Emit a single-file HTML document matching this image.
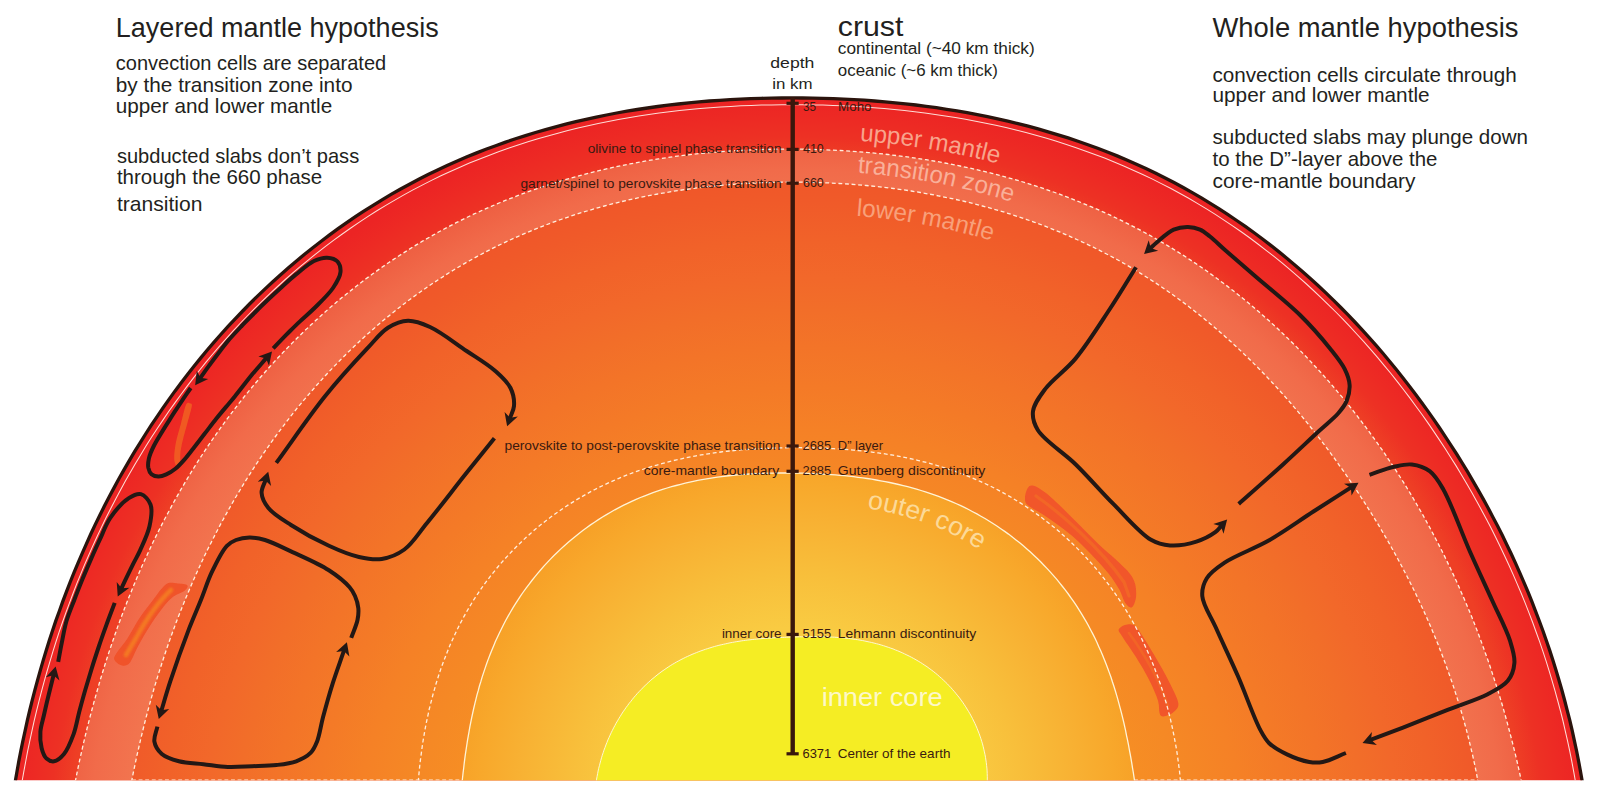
<!DOCTYPE html>
<html><head><meta charset="utf-8"><title>Mantle convection hypotheses</title>
<style>html,body{margin:0;padding:0;background:#fff}svg{display:block}</style></head>
<body>
<svg width="1600" height="794" viewBox="0 0 1600 794" font-family="Liberation Sans, sans-serif">
<defs>
<clipPath id="cb"><rect x="0" y="0" width="1600" height="780.3"/></clipPath>
<radialGradient id="gUM" gradientUnits="userSpaceOnUse" cx="797" cy="880" r="790" gradientTransform="translate(797 880) scale(1 0.99) translate(-797 -880)"><stop offset="0.925" stop-color="#ee3f25"/><stop offset="0.95" stop-color="#ed3124"/><stop offset="0.975" stop-color="#ed2a24"/><stop offset="1" stop-color="#ec2424"/></radialGradient>
<radialGradient id="gTZ" gradientUnits="userSpaceOnUse" cx="797" cy="880" r="740"><stop offset="0.905" stop-color="#f2754f"/><stop offset="0.96" stop-color="#f16b4a"/><stop offset="1" stop-color="#ee5f42"/></radialGradient>
<radialGradient id="gLM" gradientUnits="userSpaceOnUse" cx="800" cy="880" r="700"><stop offset="0.50" stop-color="#f68e24"/><stop offset="0.56" stop-color="#f58925"/><stop offset="0.643" stop-color="#f58126"/><stop offset="0.704" stop-color="#f47a27"/><stop offset="0.761" stop-color="#f37428"/><stop offset="0.814" stop-color="#f26e29"/><stop offset="0.86" stop-color="#f2682a"/><stop offset="0.913" stop-color="#f16229"/><stop offset="0.971" stop-color="#f05a29"/><stop offset="1" stop-color="#f05729"/></radialGradient>
<radialGradient id="gOC" gradientUnits="userSpaceOnUse" cx="797" cy="800" r="345"><stop offset="0.5" stop-color="#f9cb42"/><stop offset="0.65" stop-color="#f8bf3b"/><stop offset="0.81" stop-color="#f8b133"/><stop offset="0.92" stop-color="#f8a82b"/><stop offset="1" stop-color="#f7a027"/></radialGradient>
</defs>
<rect width="1600" height="794" fill="#fff"/>
<g clip-path="url(#cb)">
<path d="M15.2 781.8 L17.0 771.5 L18.8 761.3 L20.8 751.1 L22.9 740.9 L25.1 730.8 L27.3 720.6 L29.7 710.5 L32.2 700.4 L34.8 690.4 L37.5 680.4 L40.3 670.4 L43.2 660.4 L46.2 650.5 L49.3 640.6 L52.5 630.8 L55.8 620.9 L59.3 611.2 L62.8 601.4 L66.5 591.7 L70.2 582.0 L74.1 572.4 L78.1 562.8 L82.2 553.3 L86.4 543.8 L90.7 534.3 L95.1 524.9 L99.7 515.6 L104.3 506.3 L109.1 497.1 L114.0 487.9 L118.9 478.7 L124.1 469.7 L129.3 460.7 L134.6 451.7 L140.1 442.8 L145.6 434.0 L151.3 425.2 L157.1 416.6 L163.0 407.9 L169.0 399.4 L175.1 390.9 L181.4 382.6 L187.7 374.2 L194.2 366.0 L200.8 357.9 L207.5 349.8 L214.3 341.9 L221.2 334.0 L228.3 326.2 L235.4 318.6 L242.7 311.0 L250.0 303.5 L257.5 296.1 L265.1 288.9 L272.8 281.7 L280.6 274.7 L288.5 267.7 L296.5 260.9 L304.6 254.2 L312.8 247.7 L321.2 241.2 L329.6 234.9 L338.1 228.7 L346.7 222.6 L355.4 216.7 L364.2 210.9 L373.1 205.3 L382.0 199.8 L391.1 194.4 L400.2 189.2 L409.5 184.2 L418.8 179.3 L428.1 174.5 L437.6 169.9 L447.1 165.5 L456.7 161.2 L466.4 157.1 L476.1 153.1 L485.9 149.3 L495.7 145.7 L505.6 142.1 L515.5 138.8 L525.5 135.6 L535.5 132.5 L545.6 129.6 L555.7 126.8 L565.8 124.2 L575.9 121.7 L586.1 119.3 L596.3 117.1 L606.5 115.0 L616.7 113.0 L627.0 111.2 L637.3 109.5 L647.5 108.0 L657.8 106.5 L668.1 105.2 L678.4 104.0 L688.8 102.9 L699.1 101.9 L709.4 101.0 L719.7 100.3 L730.1 99.7 L740.4 99.1 L750.7 98.7 L761.1 98.3 L771.4 98.1 L781.7 98.0 L792.1 97.9 L802.4 98.0 L812.7 98.1 L823.0 98.3 L833.4 98.7 L843.7 99.1 L854.0 99.6 L864.3 100.2 L874.6 101.0 L884.9 101.8 L895.2 102.8 L905.5 103.8 L915.8 105.0 L926.1 106.3 L936.4 107.7 L946.6 109.3 L956.9 110.9 L967.1 112.7 L977.3 114.6 L987.5 116.7 L997.7 118.8 L1007.8 121.2 L1018.0 123.6 L1028.1 126.2 L1038.1 128.9 L1048.1 131.8 L1058.1 134.8 L1068.1 137.9 L1078.0 141.2 L1087.9 144.7 L1097.7 148.3 L1107.4 152.0 L1117.1 155.9 L1126.8 160.0 L1136.4 164.2 L1145.9 168.5 L1155.3 173.0 L1164.7 177.7 L1174.0 182.5 L1183.2 187.5 L1192.3 192.6 L1201.4 197.9 L1210.3 203.3 L1219.2 208.9 L1228.0 214.6 L1236.7 220.5 L1245.3 226.4 L1253.8 232.5 L1262.2 238.8 L1270.5 245.1 L1278.7 251.6 L1286.8 258.2 L1294.8 264.9 L1302.7 271.7 L1310.6 278.7 L1318.3 285.7 L1325.9 292.9 L1333.4 300.1 L1340.8 307.5 L1348.1 314.9 L1355.3 322.5 L1362.4 330.1 L1369.4 337.8 L1376.3 345.6 L1383.1 353.5 L1389.7 361.5 L1396.3 369.5 L1402.8 377.7 L1409.2 385.9 L1415.5 394.2 L1421.6 402.5 L1427.7 410.9 L1433.7 419.4 L1439.6 428.0 L1445.3 436.6 L1451.0 445.3 L1456.6 454.0 L1462.1 462.8 L1467.5 471.7 L1472.7 480.6 L1477.9 489.6 L1483.0 498.6 L1488.0 507.7 L1492.8 516.9 L1497.6 526.1 L1502.3 535.3 L1506.8 544.7 L1511.3 554.0 L1515.6 563.4 L1519.8 572.9 L1523.9 582.4 L1528.0 592.0 L1531.9 601.6 L1535.6 611.3 L1539.3 621.0 L1542.9 630.7 L1546.3 640.5 L1549.7 650.4 L1552.9 660.3 L1556.0 670.2 L1559.0 680.2 L1561.9 690.2 L1564.6 700.2 L1567.2 710.3 L1569.8 720.4 L1572.2 730.6 L1574.4 740.8 L1576.6 751.0 L1578.6 761.2 L1580.5 771.5 L1582.3 781.8 Z" fill="url(#gUM)"/>
<path d="M75.2 781.8 L77.1 772.4 L79.0 763.1 L81.1 753.8 L83.2 744.5 L85.4 735.2 L87.7 725.9 L90.1 716.7 L92.5 707.5 L95.0 698.3 L97.6 689.2 L100.2 680.1 L103.0 671.0 L105.8 661.9 L108.8 652.8 L111.8 643.8 L114.9 634.8 L118.0 625.9 L121.3 617.0 L124.7 608.1 L128.1 599.2 L131.7 590.4 L135.3 581.6 L139.1 572.8 L142.9 564.1 L146.9 555.4 L150.9 546.8 L155.0 538.2 L159.3 529.6 L163.6 521.1 L168.1 512.7 L172.6 504.3 L177.3 495.9 L182.0 487.6 L186.9 479.4 L191.8 471.2 L196.9 463.0 L202.1 455.0 L207.4 446.9 L212.8 439.0 L218.3 431.1 L223.9 423.3 L229.6 415.6 L235.5 407.9 L241.4 400.3 L247.4 392.8 L253.6 385.4 L259.8 378.0 L266.2 370.8 L272.6 363.6 L279.2 356.5 L285.8 349.5 L292.6 342.6 L299.5 335.8 L306.4 329.1 L313.5 322.5 L320.7 315.9 L327.9 309.5 L335.3 303.2 L342.7 297.0 L350.3 290.9 L357.9 285.0 L365.6 279.1 L373.5 273.3 L381.4 267.7 L389.3 262.2 L397.4 256.8 L405.6 251.6 L413.8 246.4 L422.1 241.4 L430.5 236.6 L439.0 231.8 L447.6 227.2 L456.2 222.7 L464.9 218.4 L473.6 214.2 L482.5 210.2 L491.3 206.3 L500.3 202.5 L509.3 198.9 L518.3 195.4 L527.4 192.0 L536.6 188.8 L545.7 185.7 L555.0 182.8 L564.2 180.0 L573.5 177.3 L582.9 174.7 L592.2 172.3 L601.6 170.0 L611.0 167.8 L620.5 165.8 L629.9 163.9 L639.4 162.1 L648.9 160.4 L658.4 158.9 L667.9 157.5 L677.5 156.1 L687.0 155.0 L696.6 153.9 L706.1 152.9 L715.7 152.1 L725.3 151.3 L734.9 150.7 L744.5 150.2 L754.0 149.8 L763.6 149.4 L773.2 149.2 L782.8 149.1 L792.4 149.1 L802.0 149.2 L811.5 149.4 L821.1 149.7 L830.7 150.1 L840.3 150.5 L849.8 151.1 L859.4 151.8 L868.9 152.6 L878.5 153.5 L888.0 154.5 L897.5 155.7 L907.1 156.9 L916.5 158.3 L926.0 159.7 L935.5 161.3 L944.9 163.0 L954.4 164.8 L963.8 166.8 L973.2 168.8 L982.5 171.0 L991.9 173.3 L1001.2 175.7 L1010.4 178.3 L1019.7 181.0 L1028.9 183.8 L1038.0 186.7 L1047.2 189.8 L1056.3 193.0 L1065.3 196.3 L1074.3 199.8 L1083.2 203.4 L1092.1 207.1 L1100.9 210.9 L1109.7 214.9 L1118.4 219.1 L1127.1 223.3 L1135.6 227.7 L1144.1 232.2 L1152.6 236.9 L1160.9 241.7 L1169.2 246.6 L1177.4 251.6 L1185.6 256.8 L1193.6 262.1 L1201.6 267.5 L1209.5 273.0 L1217.3 278.7 L1225.0 284.4 L1232.6 290.3 L1240.1 296.2 L1247.6 302.3 L1255.0 308.5 L1262.2 314.8 L1269.4 321.1 L1276.5 327.6 L1283.5 334.2 L1290.4 340.8 L1297.2 347.6 L1303.9 354.4 L1310.5 361.4 L1317.0 368.4 L1323.5 375.5 L1329.8 382.6 L1336.0 389.9 L1342.2 397.2 L1348.2 404.6 L1354.2 412.1 L1360.0 419.6 L1365.8 427.2 L1371.4 434.9 L1377.0 442.6 L1382.5 450.4 L1387.8 458.3 L1393.1 466.2 L1398.3 474.2 L1403.4 482.2 L1408.4 490.3 L1413.3 498.5 L1418.1 506.7 L1422.8 514.9 L1427.4 523.2 L1431.9 531.6 L1436.3 540.0 L1440.7 548.5 L1444.9 556.9 L1449.0 565.5 L1453.1 574.1 L1457.1 582.7 L1460.9 591.4 L1464.7 600.1 L1468.4 608.8 L1472.0 617.6 L1475.5 626.4 L1478.9 635.3 L1482.2 644.2 L1485.4 653.2 L1488.6 662.1 L1491.6 671.1 L1494.6 680.2 L1497.5 689.3 L1500.3 698.4 L1503.0 707.5 L1505.6 716.7 L1508.1 725.9 L1510.5 735.1 L1512.9 744.4 L1515.2 753.7 L1517.4 763.0 L1519.5 772.4 L1521.5 781.8 Z" fill="url(#gTZ)"/>
<path d="M131.5 781.8 L133.2 773.2 L135.0 764.6 L136.8 756.1 L138.8 747.5 L140.7 739.0 L142.8 730.5 L144.9 722.0 L147.1 713.6 L149.4 705.1 L151.7 696.7 L154.1 688.3 L156.6 680.0 L159.2 671.6 L161.9 663.3 L164.6 655.0 L167.4 646.7 L170.3 638.4 L173.3 630.2 L176.3 622.0 L179.5 613.8 L182.7 605.7 L186.0 597.6 L189.4 589.5 L192.9 581.4 L196.4 573.4 L200.1 565.4 L203.8 557.4 L207.6 549.5 L211.6 541.6 L215.6 533.7 L219.7 525.9 L223.9 518.1 L228.2 510.4 L232.5 502.7 L237.0 495.0 L241.6 487.4 L246.2 479.8 L251.0 472.3 L255.8 464.8 L260.8 457.4 L265.8 450.1 L270.9 442.8 L276.2 435.5 L281.5 428.3 L286.9 421.2 L292.4 414.1 L298.0 407.1 L303.8 400.2 L309.6 393.4 L315.5 386.6 L321.5 379.9 L327.6 373.2 L333.8 366.7 L340.1 360.2 L346.5 353.8 L353.0 347.5 L359.6 341.3 L366.3 335.2 L373.1 329.2 L379.9 323.3 L386.9 317.5 L394.0 311.8 L401.1 306.1 L408.4 300.6 L415.7 295.2 L423.1 290.0 L430.6 284.8 L438.2 279.8 L445.9 274.8 L453.6 270.0 L461.4 265.3 L469.4 260.8 L477.3 256.4 L485.4 252.1 L493.5 247.9 L501.7 243.9 L510.0 240.0 L518.3 236.3 L526.7 232.7 L535.2 229.2 L543.7 225.8 L552.2 222.6 L560.8 219.5 L569.4 216.6 L578.1 213.7 L586.9 211.0 L595.6 208.5 L604.4 206.0 L613.2 203.7 L622.1 201.5 L631.0 199.4 L639.9 197.5 L648.8 195.7 L657.8 194.0 L666.8 192.4 L675.8 190.9 L684.8 189.6 L693.8 188.4 L702.9 187.3 L711.9 186.3 L721.0 185.4 L730.0 184.6 L739.1 183.9 L748.2 183.4 L757.3 182.9 L766.3 182.6 L775.4 182.3 L784.5 182.2 L793.6 182.2 L802.7 182.2 L811.8 182.4 L820.9 182.6 L829.9 183.0 L839.0 183.5 L848.1 184.0 L857.2 184.7 L866.2 185.5 L875.3 186.4 L884.3 187.4 L893.3 188.5 L902.3 189.7 L911.3 191.0 L920.3 192.5 L929.3 194.1 L938.2 195.8 L947.1 197.6 L956.0 199.5 L964.9 201.5 L973.7 203.7 L982.5 206.0 L991.3 208.4 L1000.1 210.9 L1008.8 213.6 L1017.4 216.4 L1026.1 219.3 L1034.6 222.3 L1043.2 225.5 L1051.7 228.8 L1060.1 232.2 L1068.5 235.8 L1076.8 239.5 L1085.1 243.3 L1093.3 247.2 L1101.4 251.3 L1109.5 255.5 L1117.5 259.8 L1125.4 264.3 L1133.2 268.9 L1141.0 273.6 L1148.7 278.5 L1156.3 283.4 L1163.8 288.5 L1171.3 293.7 L1178.6 299.0 L1185.9 304.4 L1193.1 309.9 L1200.2 315.5 L1207.2 321.2 L1214.1 327.0 L1221.0 332.9 L1227.8 338.9 L1234.4 344.9 L1241.0 351.1 L1247.5 357.3 L1253.9 363.6 L1260.2 370.0 L1266.5 376.5 L1272.6 383.0 L1278.7 389.6 L1284.7 396.3 L1290.6 403.0 L1296.4 409.8 L1302.1 416.7 L1307.8 423.6 L1313.4 430.6 L1318.9 437.6 L1324.3 444.7 L1329.6 451.8 L1334.9 459.0 L1340.0 466.3 L1345.2 473.5 L1350.2 480.9 L1355.2 488.2 L1360.0 495.6 L1364.9 503.1 L1369.6 510.6 L1374.3 518.1 L1378.9 525.7 L1383.4 533.4 L1387.9 541.0 L1392.2 548.7 L1396.5 556.5 L1400.7 564.3 L1404.9 572.2 L1408.9 580.1 L1412.9 588.0 L1416.8 596.0 L1420.5 604.0 L1424.3 612.1 L1427.9 620.2 L1431.4 628.4 L1434.8 636.6 L1438.2 644.8 L1441.4 653.1 L1444.6 661.4 L1447.6 669.8 L1450.6 678.2 L1453.5 686.6 L1456.2 695.1 L1458.9 703.6 L1461.5 712.2 L1463.9 720.8 L1466.3 729.4 L1468.5 738.1 L1470.6 746.7 L1472.7 755.5 L1474.6 764.2 L1476.4 773.0 L1478.0 781.8 Z" fill="url(#gLM)"/>
<path d="M462.1 781.8 L462.6 777.2 L463.1 772.6 L463.7 768.0 L464.2 763.3 L464.8 758.7 L465.4 754.2 L466.1 749.6 L466.8 745.0 L467.5 740.4 L468.3 735.8 L469.1 731.3 L469.9 726.7 L470.8 722.1 L471.7 717.6 L472.7 713.0 L473.7 708.5 L474.8 703.9 L475.9 699.4 L477.0 694.9 L478.3 690.4 L479.5 685.8 L480.9 681.4 L482.2 676.9 L483.7 672.4 L485.2 667.9 L486.7 663.5 L488.3 659.1 L490.0 654.7 L491.8 650.3 L493.6 645.9 L495.4 641.6 L497.4 637.3 L499.4 633.0 L501.5 628.7 L503.6 624.5 L505.8 620.3 L508.1 616.1 L510.5 612.0 L512.9 607.9 L515.4 603.9 L518.0 599.9 L520.6 595.9 L523.3 592.0 L526.1 588.1 L529.0 584.3 L531.9 580.5 L534.8 576.8 L537.9 573.1 L541.0 569.5 L544.1 565.9 L547.4 562.4 L550.7 558.9 L554.0 555.5 L557.4 552.2 L560.9 548.9 L564.4 545.7 L568.0 542.5 L571.6 539.4 L575.3 536.4 L579.0 533.4 L582.8 530.5 L586.6 527.7 L590.5 524.9 L594.5 522.2 L598.4 519.6 L602.5 517.0 L606.5 514.6 L610.6 512.2 L614.8 509.8 L619.0 507.6 L623.2 505.4 L627.5 503.3 L631.7 501.3 L636.1 499.4 L640.4 497.5 L644.8 495.8 L649.2 494.1 L653.7 492.4 L658.1 490.9 L662.6 489.4 L667.1 488.0 L671.6 486.7 L676.1 485.5 L680.7 484.3 L685.2 483.2 L689.8 482.1 L694.4 481.1 L698.9 480.2 L703.5 479.4 L708.1 478.6 L712.7 477.9 L717.3 477.2 L721.8 476.6 L726.4 476.0 L731.0 475.5 L735.6 475.0 L740.2 474.6 L744.7 474.3 L749.3 474.0 L753.9 473.7 L758.5 473.5 L763.0 473.3 L767.6 473.2 L772.1 473.1 L776.7 473.0 L781.2 473.0 L785.7 473.0 L790.3 473.0 L794.8 473.0 L799.3 473.1 L803.9 473.2 L808.4 473.4 L812.9 473.6 L817.4 473.8 L822.0 474.0 L826.5 474.3 L831.0 474.6 L835.5 474.9 L840.0 475.3 L844.6 475.7 L849.1 476.2 L853.6 476.7 L858.1 477.3 L862.7 477.9 L867.2 478.5 L871.7 479.2 L876.2 480.0 L880.7 480.8 L885.2 481.6 L889.7 482.5 L894.2 483.5 L898.7 484.5 L903.2 485.6 L907.7 486.7 L912.1 487.9 L916.6 489.2 L921.0 490.5 L925.5 491.9 L929.9 493.3 L934.3 494.9 L938.6 496.4 L943.0 498.1 L947.3 499.8 L951.6 501.6 L955.9 503.5 L960.2 505.4 L964.4 507.4 L968.6 509.5 L972.7 511.7 L976.9 513.9 L980.9 516.2 L985.0 518.5 L989.0 521.0 L993.0 523.5 L996.9 526.0 L1000.8 528.7 L1004.7 531.4 L1008.5 534.1 L1012.3 537.0 L1016.0 539.9 L1019.7 542.8 L1023.3 545.8 L1026.9 548.9 L1030.4 552.0 L1033.8 555.2 L1037.3 558.5 L1040.6 561.8 L1043.9 565.2 L1047.2 568.6 L1050.4 572.1 L1053.5 575.6 L1056.6 579.2 L1059.6 582.8 L1062.5 586.5 L1065.4 590.2 L1068.3 594.0 L1071.0 597.8 L1073.7 601.7 L1076.4 605.6 L1078.9 609.6 L1081.4 613.6 L1083.8 617.6 L1086.2 621.7 L1088.5 625.8 L1090.7 630.0 L1092.9 634.1 L1095.0 638.3 L1097.0 642.6 L1098.9 646.9 L1100.8 651.1 L1102.7 655.5 L1104.4 659.8 L1106.2 664.2 L1107.8 668.5 L1109.4 672.9 L1111.0 677.3 L1112.4 681.8 L1113.9 686.2 L1115.3 690.7 L1116.6 695.1 L1117.9 699.6 L1119.1 704.1 L1120.3 708.6 L1121.5 713.1 L1122.6 717.6 L1123.7 722.2 L1124.7 726.7 L1125.7 731.2 L1126.6 735.8 L1127.6 740.4 L1128.5 744.9 L1129.3 749.5 L1130.2 754.1 L1131.0 758.7 L1131.8 763.3 L1132.5 767.9 L1133.3 772.5 L1134.0 777.2 L1134.7 781.8 Z" fill="url(#gOC)"/>
<path d="M596.2 781.8 L596.6 779.1 L597.1 776.4 L597.6 773.7 L598.1 771.0 L598.7 768.3 L599.4 765.7 L600.1 763.0 L600.8 760.4 L601.5 757.8 L602.3 755.2 L603.2 752.6 L604.0 750.1 L605.0 747.5 L605.9 745.0 L606.9 742.5 L607.9 740.0 L609.0 737.5 L610.1 735.1 L611.2 732.7 L612.4 730.3 L613.6 727.9 L614.9 725.5 L616.1 723.2 L617.5 720.9 L618.8 718.6 L620.2 716.4 L621.6 714.1 L623.0 711.9 L624.5 709.8 L626.0 707.6 L627.6 705.5 L629.1 703.4 L630.8 701.4 L632.4 699.3 L634.0 697.3 L635.7 695.4 L637.4 693.4 L639.2 691.5 L641.0 689.7 L642.8 687.8 L644.6 686.0 L646.4 684.2 L648.3 682.5 L650.2 680.8 L652.1 679.1 L654.1 677.5 L656.0 675.9 L658.0 674.3 L660.0 672.8 L662.0 671.3 L664.1 669.9 L666.1 668.5 L668.2 667.1 L670.3 665.7 L672.4 664.4 L674.5 663.2 L676.7 661.9 L678.8 660.8 L681.0 659.6 L683.2 658.5 L685.4 657.4 L687.6 656.4 L689.8 655.4 L692.0 654.4 L694.2 653.5 L696.5 652.6 L698.7 651.7 L700.9 650.9 L703.2 650.1 L705.4 649.3 L707.7 648.6 L709.9 647.9 L712.2 647.2 L714.4 646.5 L716.7 645.9 L718.9 645.3 L721.2 644.8 L723.4 644.3 L725.7 643.8 L727.9 643.3 L730.1 642.8 L732.4 642.4 L734.6 642.0 L736.8 641.6 L739.0 641.3 L741.2 640.9 L743.4 640.6 L745.7 640.3 L747.8 640.0 L750.0 639.8 L752.2 639.5 L754.4 639.3 L756.6 639.1 L758.8 638.9 L760.9 638.7 L763.1 638.5 L765.3 638.3 L767.4 638.2 L769.6 638.1 L771.7 637.9 L773.8 637.8 L776.0 637.7 L778.1 637.6 L780.3 637.5 L782.4 637.4 L784.5 637.3 L786.7 637.2 L788.8 637.2 L790.9 637.1 L793.1 637.0 L795.2 637.0 L797.3 636.9 L799.5 636.8 L801.6 636.8 L803.8 636.7 L805.9 636.7 L808.1 636.7 L810.3 636.7 L812.5 636.6 L814.6 636.6 L816.8 636.6 L819.0 636.7 L821.2 636.7 L823.4 636.7 L825.7 636.8 L827.9 636.9 L830.1 637.0 L832.4 637.1 L834.6 637.2 L836.9 637.4 L839.2 637.5 L841.5 637.7 L843.8 637.9 L846.1 638.2 L848.4 638.4 L850.7 638.7 L853.0 639.0 L855.3 639.4 L857.6 639.7 L860.0 640.1 L862.3 640.5 L864.7 641.0 L867.0 641.5 L869.4 642.0 L871.7 642.5 L874.1 643.1 L876.5 643.7 L878.8 644.3 L881.2 645.0 L883.5 645.7 L885.9 646.5 L888.3 647.3 L890.6 648.1 L893.0 648.9 L895.3 649.9 L897.7 650.8 L900.0 651.8 L902.3 652.8 L904.6 653.9 L906.9 655.0 L909.2 656.1 L911.5 657.3 L913.7 658.5 L916.0 659.8 L918.2 661.1 L920.4 662.4 L922.6 663.8 L924.8 665.3 L927.0 666.7 L929.1 668.3 L931.2 669.8 L933.3 671.4 L935.4 673.1 L937.4 674.7 L939.4 676.5 L941.4 678.2 L943.3 680.0 L945.3 681.9 L947.2 683.7 L949.0 685.7 L950.9 687.6 L952.6 689.6 L954.4 691.6 L956.1 693.7 L957.8 695.8 L959.5 697.9 L961.1 700.1 L962.7 702.3 L964.2 704.5 L965.7 706.8 L967.1 709.1 L968.5 711.4 L969.9 713.7 L971.2 716.1 L972.5 718.5 L973.7 721.0 L974.9 723.4 L976.0 725.9 L977.1 728.4 L978.1 731.0 L979.1 733.5 L980.0 736.1 L980.9 738.7 L981.7 741.3 L982.5 743.9 L983.2 746.6 L983.8 749.2 L984.4 751.9 L985.0 754.6 L985.5 757.3 L985.9 760.0 L986.3 762.7 L986.6 765.4 L986.9 768.1 L987.1 770.9 L987.2 773.6 L987.3 776.3 L987.3 779.1 L987.3 781.8 Z" fill="#f5ed24"/>
<filter id="bl" x="-20%" y="-20%" width="140%" height="140%"><feGaussianBlur stdDeviation="0.7"/></filter><filter id="bl2" x="-30%" y="-30%" width="160%" height="160%"><feGaussianBlur stdDeviation="1.3"/></filter>
<path d="M190.1 403.5 C189.1 403.2 187.6 401.3 186.1 404.6 C184.6 407.9 182.7 417.1 181.0 423.4 C179.3 429.7 177.0 436.8 175.9 442.6 C174.8 448.5 174.1 454.6 174.2 458.5 C174.3 462.4 175.6 465.1 176.5 465.9 C177.4 466.6 179.2 465.4 179.9 463.0 C180.6 460.6 179.9 455.8 180.5 451.7 C181.1 447.6 182.2 442.8 183.3 438.1 C184.4 433.4 185.9 428.7 187.3 423.4 C188.7 418.1 191.3 409.6 191.8 406.3 C192.3 403.0 191.1 403.8 190.1 403.5 Z" fill="#f15c23" opacity="0.95" filter="url(#bl)"/>
<path d="M167.9 583.2 C170.8 582.2 174.8 583.2 178.0 583.5 C181.2 583.8 186.2 584.0 187.3 585.2 C188.4 586.4 187.1 588.7 184.5 590.8 C181.9 592.9 175.9 594.5 172.0 597.7 C168.1 600.9 164.8 605.1 160.9 610.2 C157.0 615.3 152.4 622.0 148.5 628.2 C144.6 634.4 140.5 641.8 137.4 647.6 C134.3 653.4 132.3 659.8 129.8 662.8 C127.3 665.8 124.8 666.1 122.2 665.6 C119.7 665.1 115.4 662.1 114.5 660.0 C113.6 657.9 114.4 656.8 116.6 653.1 C118.8 649.4 123.8 643.9 127.7 637.9 C131.6 631.9 136.0 623.3 140.2 617.1 C144.3 610.9 149.1 605.1 152.6 600.5 C156.1 595.9 158.3 592.3 160.9 589.4 C163.5 586.5 165.1 584.2 167.9 583.2 Z" fill="#f0522a" filter="url(#bl)"/>
<path d="M171 590 C160 600 147 618 136 638 L126 655" fill="none" stroke="#f47d22" stroke-width="4.6" stroke-linecap="round" opacity="0.9" filter="url(#bl2)"/>
<path d="M1025.0 497.9 C1025.0 495.1 1026.3 490.2 1027.6 488.2 C1028.9 486.1 1030.0 484.9 1032.9 485.6 C1035.9 486.3 1040.3 488.8 1045.3 492.6 C1050.3 496.4 1057.0 502.9 1062.9 508.5 C1068.8 514.1 1074.6 520.2 1080.5 526.1 C1086.4 532.0 1092.3 538.2 1098.2 543.8 C1104.1 549.4 1110.5 554.6 1115.8 559.6 C1121.1 564.6 1126.7 569.6 1129.9 573.7 C1133.1 577.8 1134.2 580.5 1135.2 584.3 C1136.2 588.1 1136.4 593.2 1136.1 596.7 C1135.8 600.2 1134.4 603.7 1133.4 605.5 C1132.4 607.3 1131.4 607.9 1129.9 607.3 C1128.4 606.7 1126.4 605.0 1124.6 602.0 C1122.8 599.0 1121.9 594.3 1119.3 589.6 C1116.7 584.9 1112.8 579.0 1108.7 573.7 C1104.6 568.4 1099.9 563.5 1094.6 557.9 C1089.3 552.3 1082.9 545.5 1077.0 540.2 C1071.1 534.9 1065.3 530.5 1059.4 526.1 C1053.5 521.7 1047.0 517.3 1041.7 513.8 C1036.4 510.3 1030.4 507.6 1027.6 505.0 C1024.8 502.4 1025.0 500.7 1025.0 497.9 Z" fill="#f1562a" filter="url(#bl)"/>
<path d="M1036 496 C1062 514 1100 548 1124 582 L1129 596" fill="none" stroke="#f47a20" stroke-width="3.2" stroke-linecap="round" opacity="0.45" filter="url(#bl)"/>
<path d="M1118.7 629.6 C1119.2 627.8 1122.3 625.9 1124.8 625.1 C1127.3 624.4 1131.0 623.6 1133.8 625.1 C1136.6 626.6 1138.1 629.4 1141.4 634.2 C1144.7 639.0 1149.5 647.0 1153.5 653.8 C1157.5 660.6 1162.1 668.5 1165.6 675.0 C1169.1 681.5 1172.5 688.3 1174.6 693.1 C1176.7 697.9 1178.2 700.9 1178.4 703.7 C1178.7 706.5 1177.5 707.9 1176.1 709.7 C1174.7 711.5 1172.4 713.2 1170.1 714.3 C1167.8 715.4 1164.3 716.8 1162.5 716.5 C1160.7 716.2 1160.2 715.4 1159.5 712.8 C1158.8 710.2 1159.5 705.8 1158.0 700.7 C1156.5 695.7 1153.2 688.3 1150.4 682.5 C1147.6 676.7 1144.7 671.4 1141.4 665.9 C1138.1 660.4 1134.1 654.3 1130.8 649.3 C1127.5 644.3 1123.7 639.0 1121.7 635.7 C1119.7 632.4 1118.2 631.4 1118.7 629.6 Z" fill="#f1562a" filter="url(#bl)"/>
<path d="M1129 633 C1145 655 1160 682 1168 706" fill="none" stroke="#f47a20" stroke-width="2.6" stroke-linecap="round" opacity="0.4" filter="url(#bl)"/>
<path d="M15.2 781.8 L17.0 771.5 L18.8 761.3 L20.8 751.1 L22.9 740.9 L25.1 730.8 L27.3 720.6 L29.7 710.5 L32.2 700.4 L34.8 690.4 L37.5 680.4 L40.3 670.4 L43.2 660.4 L46.2 650.5 L49.3 640.6 L52.5 630.8 L55.8 620.9 L59.3 611.2 L62.8 601.4 L66.5 591.7 L70.2 582.0 L74.1 572.4 L78.1 562.8 L82.2 553.3 L86.4 543.8 L90.7 534.3 L95.1 524.9 L99.7 515.6 L104.3 506.3 L109.1 497.1 L114.0 487.9 L118.9 478.7 L124.1 469.7 L129.3 460.7 L134.6 451.7 L140.1 442.8 L145.6 434.0 L151.3 425.2 L157.1 416.6 L163.0 407.9 L169.0 399.4 L175.1 390.9 L181.4 382.6 L187.7 374.2 L194.2 366.0 L200.8 357.9 L207.5 349.8 L214.3 341.9 L221.2 334.0 L228.3 326.2 L235.4 318.6 L242.7 311.0 L250.0 303.5 L257.5 296.1 L265.1 288.9 L272.8 281.7 L280.6 274.7 L288.5 267.7 L296.5 260.9 L304.6 254.2 L312.8 247.7 L321.2 241.2 L329.6 234.9 L338.1 228.7 L346.7 222.6 L355.4 216.7 L364.2 210.9 L373.1 205.3 L382.0 199.8 L391.1 194.4 L400.2 189.2 L409.5 184.2 L418.8 179.3 L428.1 174.5 L437.6 169.9 L447.1 165.5 L456.7 161.2 L466.4 157.1 L476.1 153.1 L485.9 149.3 L495.7 145.7 L505.6 142.1 L515.5 138.8 L525.5 135.6 L535.5 132.5 L545.6 129.6 L555.7 126.8 L565.8 124.2 L575.9 121.7 L586.1 119.3 L596.3 117.1 L606.5 115.0 L616.7 113.0 L627.0 111.2 L637.3 109.5 L647.5 108.0 L657.8 106.5 L668.1 105.2 L678.4 104.0 L688.8 102.9 L699.1 101.9 L709.4 101.0 L719.7 100.3 L730.1 99.7 L740.4 99.1 L750.7 98.7 L761.1 98.3 L771.4 98.1 L781.7 98.0 L792.1 97.9 L802.4 98.0 L812.7 98.1 L823.0 98.3 L833.4 98.7 L843.7 99.1 L854.0 99.6 L864.3 100.2 L874.6 101.0 L884.9 101.8 L895.2 102.8 L905.5 103.8 L915.8 105.0 L926.1 106.3 L936.4 107.7 L946.6 109.3 L956.9 110.9 L967.1 112.7 L977.3 114.6 L987.5 116.7 L997.7 118.8 L1007.8 121.2 L1018.0 123.6 L1028.1 126.2 L1038.1 128.9 L1048.1 131.8 L1058.1 134.8 L1068.1 137.9 L1078.0 141.2 L1087.9 144.7 L1097.7 148.3 L1107.4 152.0 L1117.1 155.9 L1126.8 160.0 L1136.4 164.2 L1145.9 168.5 L1155.3 173.0 L1164.7 177.7 L1174.0 182.5 L1183.2 187.5 L1192.3 192.6 L1201.4 197.9 L1210.3 203.3 L1219.2 208.9 L1228.0 214.6 L1236.7 220.5 L1245.3 226.4 L1253.8 232.5 L1262.2 238.8 L1270.5 245.1 L1278.7 251.6 L1286.8 258.2 L1294.8 264.9 L1302.7 271.7 L1310.6 278.7 L1318.3 285.7 L1325.9 292.9 L1333.4 300.1 L1340.8 307.5 L1348.1 314.9 L1355.3 322.5 L1362.4 330.1 L1369.4 337.8 L1376.3 345.6 L1383.1 353.5 L1389.7 361.5 L1396.3 369.5 L1402.8 377.7 L1409.2 385.9 L1415.5 394.2 L1421.6 402.5 L1427.7 410.9 L1433.7 419.4 L1439.6 428.0 L1445.3 436.6 L1451.0 445.3 L1456.6 454.0 L1462.1 462.8 L1467.5 471.7 L1472.7 480.6 L1477.9 489.6 L1483.0 498.6 L1488.0 507.7 L1492.8 516.9 L1497.6 526.1 L1502.3 535.3 L1506.8 544.7 L1511.3 554.0 L1515.6 563.4 L1519.8 572.9 L1523.9 582.4 L1528.0 592.0 L1531.9 601.6 L1535.6 611.3 L1539.3 621.0 L1542.9 630.7 L1546.3 640.5 L1549.7 650.4 L1552.9 660.3 L1556.0 670.2 L1559.0 680.2 L1561.9 690.2 L1564.6 700.2 L1567.2 710.3 L1569.8 720.4 L1572.2 730.6 L1574.4 740.8 L1576.6 751.0 L1578.6 761.2 L1580.5 771.5 L1582.3 781.8" fill="none" stroke="#2b140d" stroke-width="3.3"/>
<path d="M22.0 781.8 L23.8 771.6 L25.7 761.5 L27.6 751.4 L29.7 741.3 L31.9 731.2 L34.1 721.2 L36.5 711.2 L39.0 701.2 L41.5 691.3 L44.2 681.3 L47.0 671.5 L49.9 661.6 L52.8 651.8 L55.9 642.0 L59.1 632.2 L62.4 622.5 L65.8 612.8 L69.4 603.1 L73.0 593.5 L76.7 583.9 L80.6 574.4 L84.5 564.9 L88.6 555.5 L92.7 546.1 L97.0 536.7 L101.4 527.4 L105.9 518.1 L110.5 508.9 L115.3 499.8 L120.1 490.7 L125.1 481.6 L130.1 472.7 L135.3 463.7 L140.6 454.9 L146.0 446.1 L151.5 437.3 L157.1 428.7 L162.9 420.1 L168.7 411.5 L174.7 403.1 L180.8 394.7 L187.0 386.4 L193.3 378.1 L199.7 370.0 L206.2 361.9 L212.8 354.0 L219.6 346.1 L226.5 338.3 L233.4 330.6 L240.5 323.0 L247.7 315.5 L255.0 308.1 L262.4 300.8 L269.9 293.6 L277.6 286.5 L285.3 279.5 L293.1 272.7 L301.1 265.9 L309.1 259.3 L317.2 252.8 L325.5 246.4 L333.8 240.1 L342.3 234.0 L350.8 228.0 L359.4 222.1 L368.1 216.4 L376.9 210.8 L385.8 205.4 L394.8 200.1 L403.9 194.9 L413.0 189.9 L422.2 185.1 L431.5 180.4 L440.9 175.8 L450.3 171.4 L459.9 167.2 L469.4 163.1 L479.1 159.2 L488.8 155.4 L498.5 151.8 L508.3 148.3 L518.1 145.0 L528.0 141.8 L537.9 138.8 L547.9 135.9 L557.9 133.2 L567.9 130.6 L578.0 128.1 L588.1 125.8 L598.2 123.6 L608.3 121.5 L618.4 119.6 L628.6 117.8 L638.8 116.1 L648.9 114.6 L659.1 113.1 L669.3 111.8 L679.6 110.6 L689.8 109.6 L700.0 108.6 L710.2 107.8 L720.5 107.0 L730.7 106.4 L740.9 105.8 L751.2 105.4 L761.4 105.1 L771.6 104.9 L781.9 104.7 L792.1 104.7 L802.3 104.7 L812.6 104.9 L822.8 105.1 L833.0 105.4 L843.2 105.8 L853.5 106.3 L863.7 107.0 L873.9 107.7 L884.1 108.5 L894.3 109.5 L904.5 110.5 L914.7 111.7 L924.9 113.0 L935.1 114.4 L945.2 115.9 L955.4 117.5 L965.5 119.3 L975.7 121.2 L985.8 123.2 L995.8 125.3 L1005.9 127.6 L1015.9 130.0 L1025.9 132.6 L1035.9 135.3 L1045.8 138.1 L1055.7 141.1 L1065.6 144.2 L1075.4 147.5 L1085.2 150.9 L1094.9 154.4 L1104.6 158.1 L1114.2 162.0 L1123.7 166.0 L1133.2 170.2 L1142.7 174.5 L1152.0 178.9 L1161.3 183.6 L1170.5 188.3 L1179.6 193.3 L1188.7 198.3 L1197.7 203.6 L1206.5 208.9 L1215.3 214.4 L1224.0 220.1 L1232.6 225.9 L1241.2 231.8 L1249.6 237.8 L1257.9 244.0 L1266.1 250.3 L1274.3 256.7 L1282.3 263.2 L1290.3 269.9 L1298.1 276.7 L1305.9 283.5 L1313.5 290.5 L1321.0 297.6 L1328.5 304.8 L1335.8 312.0 L1343.1 319.4 L1350.2 326.9 L1357.2 334.5 L1364.2 342.1 L1371.0 349.8 L1377.7 357.7 L1384.3 365.6 L1390.9 373.5 L1397.3 381.6 L1403.6 389.7 L1409.8 397.9 L1415.9 406.2 L1422.0 414.5 L1427.9 422.9 L1433.7 431.4 L1439.4 439.9 L1445.1 448.5 L1450.6 457.2 L1456.1 465.9 L1461.4 474.7 L1466.6 483.5 L1471.8 492.4 L1476.8 501.4 L1481.7 510.4 L1486.6 519.4 L1491.3 528.6 L1495.9 537.7 L1500.4 546.9 L1504.8 556.2 L1509.1 565.5 L1513.3 574.9 L1517.4 584.4 L1521.4 593.8 L1525.3 603.4 L1529.0 612.9 L1532.7 622.5 L1536.2 632.2 L1539.7 641.9 L1543.0 651.7 L1546.2 661.4 L1549.3 671.3 L1552.2 681.2 L1555.1 691.1 L1557.8 701.0 L1560.5 711.0 L1563.0 721.0 L1565.3 731.1 L1567.6 741.1 L1569.8 751.3 L1571.8 761.4 L1573.7 771.6 L1575.5 781.8" fill="none" stroke="#ffdcd6" stroke-width="1.05"/>
<path d="M75.2 781.8 L77.1 772.4 L79.0 763.1 L81.1 753.8 L83.2 744.5 L85.4 735.2 L87.7 725.9 L90.1 716.7 L92.5 707.5 L95.0 698.3 L97.6 689.2 L100.2 680.1 L103.0 671.0 L105.8 661.9 L108.8 652.8 L111.8 643.8 L114.9 634.8 L118.0 625.9 L121.3 617.0 L124.7 608.1 L128.1 599.2 L131.7 590.4 L135.3 581.6 L139.1 572.8 L142.9 564.1 L146.9 555.4 L150.9 546.8 L155.0 538.2 L159.3 529.6 L163.6 521.1 L168.1 512.7 L172.6 504.3 L177.3 495.9 L182.0 487.6 L186.9 479.4 L191.8 471.2 L196.9 463.0 L202.1 455.0 L207.4 446.9 L212.8 439.0 L218.3 431.1 L223.9 423.3 L229.6 415.6 L235.5 407.9 L241.4 400.3 L247.4 392.8 L253.6 385.4 L259.8 378.0 L266.2 370.8 L272.6 363.6 L279.2 356.5 L285.8 349.5 L292.6 342.6 L299.5 335.8 L306.4 329.1 L313.5 322.5 L320.7 315.9 L327.9 309.5 L335.3 303.2 L342.7 297.0 L350.3 290.9 L357.9 285.0 L365.6 279.1 L373.5 273.3 L381.4 267.7 L389.3 262.2 L397.4 256.8 L405.6 251.6 L413.8 246.4 L422.1 241.4 L430.5 236.6 L439.0 231.8 L447.6 227.2 L456.2 222.7 L464.9 218.4 L473.6 214.2 L482.5 210.2 L491.3 206.3 L500.3 202.5 L509.3 198.9 L518.3 195.4 L527.4 192.0 L536.6 188.8 L545.7 185.7 L555.0 182.8 L564.2 180.0 L573.5 177.3 L582.9 174.7 L592.2 172.3 L601.6 170.0 L611.0 167.8 L620.5 165.8 L629.9 163.9 L639.4 162.1 L648.9 160.4 L658.4 158.9 L667.9 157.5 L677.5 156.1 L687.0 155.0 L696.6 153.9 L706.1 152.9 L715.7 152.1 L725.3 151.3 L734.9 150.7 L744.5 150.2 L754.0 149.8 L763.6 149.4 L773.2 149.2 L782.8 149.1 L792.4 149.1 L802.0 149.2 L811.5 149.4 L821.1 149.7 L830.7 150.1 L840.3 150.5 L849.8 151.1 L859.4 151.8 L868.9 152.6 L878.5 153.5 L888.0 154.5 L897.5 155.7 L907.1 156.9 L916.5 158.3 L926.0 159.7 L935.5 161.3 L944.9 163.0 L954.4 164.8 L963.8 166.8 L973.2 168.8 L982.5 171.0 L991.9 173.3 L1001.2 175.7 L1010.4 178.3 L1019.7 181.0 L1028.9 183.8 L1038.0 186.7 L1047.2 189.8 L1056.3 193.0 L1065.3 196.3 L1074.3 199.8 L1083.2 203.4 L1092.1 207.1 L1100.9 210.9 L1109.7 214.9 L1118.4 219.1 L1127.1 223.3 L1135.6 227.7 L1144.1 232.2 L1152.6 236.9 L1160.9 241.7 L1169.2 246.6 L1177.4 251.6 L1185.6 256.8 L1193.6 262.1 L1201.6 267.5 L1209.5 273.0 L1217.3 278.7 L1225.0 284.4 L1232.6 290.3 L1240.1 296.2 L1247.6 302.3 L1255.0 308.5 L1262.2 314.8 L1269.4 321.1 L1276.5 327.6 L1283.5 334.2 L1290.4 340.8 L1297.2 347.6 L1303.9 354.4 L1310.5 361.4 L1317.0 368.4 L1323.5 375.5 L1329.8 382.6 L1336.0 389.9 L1342.2 397.2 L1348.2 404.6 L1354.2 412.1 L1360.0 419.6 L1365.8 427.2 L1371.4 434.9 L1377.0 442.6 L1382.5 450.4 L1387.8 458.3 L1393.1 466.2 L1398.3 474.2 L1403.4 482.2 L1408.4 490.3 L1413.3 498.5 L1418.1 506.7 L1422.8 514.9 L1427.4 523.2 L1431.9 531.6 L1436.3 540.0 L1440.7 548.5 L1444.9 556.9 L1449.0 565.5 L1453.1 574.1 L1457.1 582.7 L1460.9 591.4 L1464.7 600.1 L1468.4 608.8 L1472.0 617.6 L1475.5 626.4 L1478.9 635.3 L1482.2 644.2 L1485.4 653.2 L1488.6 662.1 L1491.6 671.1 L1494.6 680.2 L1497.5 689.3 L1500.3 698.4 L1503.0 707.5 L1505.6 716.7 L1508.1 725.9 L1510.5 735.1 L1512.9 744.4 L1515.2 753.7 L1517.4 763.0 L1519.5 772.4 L1521.5 781.8" stroke="#ffeedd" stroke-width="1.3" stroke-dasharray="3.9 2.7" fill="none"/>
<path d="M131.5 781.8 L133.2 773.2 L135.0 764.6 L136.8 756.1 L138.8 747.5 L140.7 739.0 L142.8 730.5 L144.9 722.0 L147.1 713.6 L149.4 705.1 L151.7 696.7 L154.1 688.3 L156.6 680.0 L159.2 671.6 L161.9 663.3 L164.6 655.0 L167.4 646.7 L170.3 638.4 L173.3 630.2 L176.3 622.0 L179.5 613.8 L182.7 605.7 L186.0 597.6 L189.4 589.5 L192.9 581.4 L196.4 573.4 L200.1 565.4 L203.8 557.4 L207.6 549.5 L211.6 541.6 L215.6 533.7 L219.7 525.9 L223.9 518.1 L228.2 510.4 L232.5 502.7 L237.0 495.0 L241.6 487.4 L246.2 479.8 L251.0 472.3 L255.8 464.8 L260.8 457.4 L265.8 450.1 L270.9 442.8 L276.2 435.5 L281.5 428.3 L286.9 421.2 L292.4 414.1 L298.0 407.1 L303.8 400.2 L309.6 393.4 L315.5 386.6 L321.5 379.9 L327.6 373.2 L333.8 366.7 L340.1 360.2 L346.5 353.8 L353.0 347.5 L359.6 341.3 L366.3 335.2 L373.1 329.2 L379.9 323.3 L386.9 317.5 L394.0 311.8 L401.1 306.1 L408.4 300.6 L415.7 295.2 L423.1 290.0 L430.6 284.8 L438.2 279.8 L445.9 274.8 L453.6 270.0 L461.4 265.3 L469.4 260.8 L477.3 256.4 L485.4 252.1 L493.5 247.9 L501.7 243.9 L510.0 240.0 L518.3 236.3 L526.7 232.7 L535.2 229.2 L543.7 225.8 L552.2 222.6 L560.8 219.5 L569.4 216.6 L578.1 213.7 L586.9 211.0 L595.6 208.5 L604.4 206.0 L613.2 203.7 L622.1 201.5 L631.0 199.4 L639.9 197.5 L648.8 195.7 L657.8 194.0 L666.8 192.4 L675.8 190.9 L684.8 189.6 L693.8 188.4 L702.9 187.3 L711.9 186.3 L721.0 185.4 L730.0 184.6 L739.1 183.9 L748.2 183.4 L757.3 182.9 L766.3 182.6 L775.4 182.3 L784.5 182.2 L793.6 182.2 L802.7 182.2 L811.8 182.4 L820.9 182.6 L829.9 183.0 L839.0 183.5 L848.1 184.0 L857.2 184.7 L866.2 185.5 L875.3 186.4 L884.3 187.4 L893.3 188.5 L902.3 189.7 L911.3 191.0 L920.3 192.5 L929.3 194.1 L938.2 195.8 L947.1 197.6 L956.0 199.5 L964.9 201.5 L973.7 203.7 L982.5 206.0 L991.3 208.4 L1000.1 210.9 L1008.8 213.6 L1017.4 216.4 L1026.1 219.3 L1034.6 222.3 L1043.2 225.5 L1051.7 228.8 L1060.1 232.2 L1068.5 235.8 L1076.8 239.5 L1085.1 243.3 L1093.3 247.2 L1101.4 251.3 L1109.5 255.5 L1117.5 259.8 L1125.4 264.3 L1133.2 268.9 L1141.0 273.6 L1148.7 278.5 L1156.3 283.4 L1163.8 288.5 L1171.3 293.7 L1178.6 299.0 L1185.9 304.4 L1193.1 309.9 L1200.2 315.5 L1207.2 321.2 L1214.1 327.0 L1221.0 332.9 L1227.8 338.9 L1234.4 344.9 L1241.0 351.1 L1247.5 357.3 L1253.9 363.6 L1260.2 370.0 L1266.5 376.5 L1272.6 383.0 L1278.7 389.6 L1284.7 396.3 L1290.6 403.0 L1296.4 409.8 L1302.1 416.7 L1307.8 423.6 L1313.4 430.6 L1318.9 437.6 L1324.3 444.7 L1329.6 451.8 L1334.9 459.0 L1340.0 466.3 L1345.2 473.5 L1350.2 480.9 L1355.2 488.2 L1360.0 495.6 L1364.9 503.1 L1369.6 510.6 L1374.3 518.1 L1378.9 525.7 L1383.4 533.4 L1387.9 541.0 L1392.2 548.7 L1396.5 556.5 L1400.7 564.3 L1404.9 572.2 L1408.9 580.1 L1412.9 588.0 L1416.8 596.0 L1420.5 604.0 L1424.3 612.1 L1427.9 620.2 L1431.4 628.4 L1434.8 636.6 L1438.2 644.8 L1441.4 653.1 L1444.6 661.4 L1447.6 669.8 L1450.6 678.2 L1453.5 686.6 L1456.2 695.1 L1458.9 703.6 L1461.5 712.2 L1463.9 720.8 L1466.3 729.4 L1468.5 738.1 L1470.6 746.7 L1472.7 755.5 L1474.6 764.2 L1476.4 773.0 L1478.0 781.8" stroke="#ffeedd" stroke-width="1.3" stroke-dasharray="3.9 2.7" fill="none"/>
<path d="M418.2 781.8 L418.7 776.5 L419.2 771.3 L419.7 766.1 L420.3 760.8 L421.0 755.6 L421.7 750.4 L422.4 745.2 L423.2 740.0 L424.1 734.8 L425.0 729.6 L426.0 724.4 L427.1 719.2 L428.2 714.1 L429.3 709.0 L430.6 703.8 L431.9 698.7 L433.2 693.6 L434.7 688.6 L436.1 683.5 L437.7 678.5 L439.3 673.4 L441.0 668.4 L442.8 663.5 L444.7 658.5 L446.6 653.6 L448.6 648.7 L450.6 643.8 L452.8 639.0 L455.0 634.2 L457.3 629.4 L459.6 624.7 L462.1 620.0 L464.6 615.4 L467.2 610.8 L469.9 606.2 L472.6 601.7 L475.5 597.2 L478.4 592.8 L481.4 588.4 L484.4 584.1 L487.6 579.9 L490.8 575.7 L494.1 571.6 L497.4 567.5 L500.8 563.4 L504.3 559.5 L507.9 555.6 L511.5 551.8 L515.1 548.0 L518.9 544.3 L522.7 540.6 L526.5 537.1 L530.5 533.6 L534.4 530.1 L538.4 526.7 L542.5 523.4 L546.6 520.2 L550.8 517.1 L555.0 514.0 L559.3 511.0 L563.6 508.0 L568.0 505.1 L572.4 502.4 L576.8 499.6 L581.3 497.0 L585.8 494.4 L590.3 491.9 L594.9 489.5 L599.5 487.2 L604.2 484.9 L608.9 482.7 L613.6 480.6 L618.3 478.6 L623.1 476.6 L627.8 474.7 L632.6 472.9 L637.4 471.2 L642.3 469.5 L647.1 467.9 L652.0 466.4 L656.9 465.0 L661.8 463.6 L666.7 462.3 L671.6 461.0 L676.5 459.9 L681.4 458.8 L686.3 457.7 L691.3 456.7 L696.2 455.8 L701.2 454.9 L706.1 454.1 L711.0 453.4 L716.0 452.7 L720.9 452.0 L725.8 451.4 L730.8 450.9 L735.7 450.4 L740.6 449.9 L745.6 449.5 L750.5 449.2 L755.4 448.9 L760.3 448.6 L765.2 448.4 L770.1 448.2 L775.0 448.0 L779.9 447.9 L784.9 447.8 L789.8 447.7 L794.7 447.7 L799.6 447.7 L804.5 447.8 L809.4 447.8 L814.3 447.9 L819.2 448.1 L824.1 448.2 L829.0 448.5 L833.9 448.7 L838.8 449.0 L843.7 449.3 L848.6 449.7 L853.6 450.1 L858.5 450.6 L863.4 451.1 L868.3 451.6 L873.3 452.3 L878.2 452.9 L883.1 453.6 L888.1 454.4 L893.0 455.2 L897.9 456.1 L902.8 457.1 L907.8 458.1 L912.7 459.1 L917.6 460.3 L922.5 461.5 L927.4 462.7 L932.3 464.1 L937.1 465.5 L942.0 467.0 L946.8 468.5 L951.7 470.1 L956.5 471.8 L961.3 473.6 L966.1 475.4 L970.8 477.3 L975.5 479.3 L980.2 481.4 L984.9 483.5 L989.6 485.7 L994.2 488.0 L998.7 490.4 L1003.3 492.9 L1007.8 495.4 L1012.3 498.0 L1016.7 500.7 L1021.1 503.4 L1025.5 506.2 L1029.8 509.1 L1034.1 512.1 L1038.3 515.1 L1042.5 518.2 L1046.6 521.4 L1050.7 524.6 L1054.8 527.9 L1058.8 531.3 L1062.7 534.7 L1066.6 538.2 L1070.5 541.8 L1074.2 545.4 L1078.0 549.1 L1081.6 552.8 L1085.3 556.6 L1088.8 560.5 L1092.3 564.4 L1095.8 568.4 L1099.1 572.4 L1102.4 576.5 L1105.7 580.7 L1108.9 584.9 L1112.0 589.1 L1115.0 593.4 L1118.0 597.8 L1121.0 602.2 L1123.8 606.7 L1126.6 611.1 L1129.3 615.7 L1131.9 620.3 L1134.5 624.9 L1137.0 629.5 L1139.4 634.2 L1141.8 639.0 L1144.1 643.8 L1146.3 648.6 L1148.5 653.4 L1150.6 658.3 L1152.6 663.2 L1154.5 668.1 L1156.4 673.1 L1158.2 678.0 L1160.0 683.0 L1161.7 688.1 L1163.3 693.1 L1164.8 698.2 L1166.3 703.3 L1167.7 708.4 L1169.0 713.6 L1170.3 718.7 L1171.5 723.9 L1172.6 729.1 L1173.7 734.3 L1174.7 739.6 L1175.7 744.8 L1176.6 750.0 L1177.4 755.3 L1178.1 760.6 L1178.8 765.9 L1179.5 771.2 L1180.0 776.5 L1180.6 781.8" stroke="#ffeedd" stroke-width="1.3" stroke-dasharray="3.9 2.7" fill="none"/>
<path d="M462.1 781.8 L462.6 777.2 L463.1 772.6 L463.7 768.0 L464.2 763.3 L464.8 758.7 L465.4 754.2 L466.1 749.6 L466.8 745.0 L467.5 740.4 L468.3 735.8 L469.1 731.3 L469.9 726.7 L470.8 722.1 L471.7 717.6 L472.7 713.0 L473.7 708.5 L474.8 703.9 L475.9 699.4 L477.0 694.9 L478.3 690.4 L479.5 685.8 L480.9 681.4 L482.2 676.9 L483.7 672.4 L485.2 667.9 L486.7 663.5 L488.3 659.1 L490.0 654.7 L491.8 650.3 L493.6 645.9 L495.4 641.6 L497.4 637.3 L499.4 633.0 L501.5 628.7 L503.6 624.5 L505.8 620.3 L508.1 616.1 L510.5 612.0 L512.9 607.9 L515.4 603.9 L518.0 599.9 L520.6 595.9 L523.3 592.0 L526.1 588.1 L529.0 584.3 L531.9 580.5 L534.8 576.8 L537.9 573.1 L541.0 569.5 L544.1 565.9 L547.4 562.4 L550.7 558.9 L554.0 555.5 L557.4 552.2 L560.9 548.9 L564.4 545.7 L568.0 542.5 L571.6 539.4 L575.3 536.4 L579.0 533.4 L582.8 530.5 L586.6 527.7 L590.5 524.9 L594.5 522.2 L598.4 519.6 L602.5 517.0 L606.5 514.6 L610.6 512.2 L614.8 509.8 L619.0 507.6 L623.2 505.4 L627.5 503.3 L631.7 501.3 L636.1 499.4 L640.4 497.5 L644.8 495.8 L649.2 494.1 L653.7 492.4 L658.1 490.9 L662.6 489.4 L667.1 488.0 L671.6 486.7 L676.1 485.5 L680.7 484.3 L685.2 483.2 L689.8 482.1 L694.4 481.1 L698.9 480.2 L703.5 479.4 L708.1 478.6 L712.7 477.9 L717.3 477.2 L721.8 476.6 L726.4 476.0 L731.0 475.5 L735.6 475.0 L740.2 474.6 L744.7 474.3 L749.3 474.0 L753.9 473.7 L758.5 473.5 L763.0 473.3 L767.6 473.2 L772.1 473.1 L776.7 473.0 L781.2 473.0 L785.7 473.0 L790.3 473.0 L794.8 473.0 L799.3 473.1 L803.9 473.2 L808.4 473.4 L812.9 473.6 L817.4 473.8 L822.0 474.0 L826.5 474.3 L831.0 474.6 L835.5 474.9 L840.0 475.3 L844.6 475.7 L849.1 476.2 L853.6 476.7 L858.1 477.3 L862.7 477.9 L867.2 478.5 L871.7 479.2 L876.2 480.0 L880.7 480.8 L885.2 481.6 L889.7 482.5 L894.2 483.5 L898.7 484.5 L903.2 485.6 L907.7 486.7 L912.1 487.9 L916.6 489.2 L921.0 490.5 L925.5 491.9 L929.9 493.3 L934.3 494.9 L938.6 496.4 L943.0 498.1 L947.3 499.8 L951.6 501.6 L955.9 503.5 L960.2 505.4 L964.4 507.4 L968.6 509.5 L972.7 511.7 L976.9 513.9 L980.9 516.2 L985.0 518.5 L989.0 521.0 L993.0 523.5 L996.9 526.0 L1000.8 528.7 L1004.7 531.4 L1008.5 534.1 L1012.3 537.0 L1016.0 539.9 L1019.7 542.8 L1023.3 545.8 L1026.9 548.9 L1030.4 552.0 L1033.8 555.2 L1037.3 558.5 L1040.6 561.8 L1043.9 565.2 L1047.2 568.6 L1050.4 572.1 L1053.5 575.6 L1056.6 579.2 L1059.6 582.8 L1062.5 586.5 L1065.4 590.2 L1068.3 594.0 L1071.0 597.8 L1073.7 601.7 L1076.4 605.6 L1078.9 609.6 L1081.4 613.6 L1083.8 617.6 L1086.2 621.7 L1088.5 625.8 L1090.7 630.0 L1092.9 634.1 L1095.0 638.3 L1097.0 642.6 L1098.9 646.9 L1100.8 651.1 L1102.7 655.5 L1104.4 659.8 L1106.2 664.2 L1107.8 668.5 L1109.4 672.9 L1111.0 677.3 L1112.4 681.8 L1113.9 686.2 L1115.3 690.7 L1116.6 695.1 L1117.9 699.6 L1119.1 704.1 L1120.3 708.6 L1121.5 713.1 L1122.6 717.6 L1123.7 722.2 L1124.7 726.7 L1125.7 731.2 L1126.6 735.8 L1127.6 740.4 L1128.5 744.9 L1129.3 749.5 L1130.2 754.1 L1131.0 758.7 L1131.8 763.3 L1132.5 767.9 L1133.3 772.5 L1134.0 777.2 L1134.7 781.8" fill="none" stroke="#fff3d6" stroke-width="1.3"/>
<path d="M596.2 781.8 L596.6 779.1 L597.1 776.4 L597.6 773.7 L598.1 771.0 L598.7 768.3 L599.4 765.7 L600.1 763.0 L600.8 760.4 L601.5 757.8 L602.3 755.2 L603.2 752.6 L604.0 750.1 L605.0 747.5 L605.9 745.0 L606.9 742.5 L607.9 740.0 L609.0 737.5 L610.1 735.1 L611.2 732.7 L612.4 730.3 L613.6 727.9 L614.9 725.5 L616.1 723.2 L617.5 720.9 L618.8 718.6 L620.2 716.4 L621.6 714.1 L623.0 711.9 L624.5 709.8 L626.0 707.6 L627.6 705.5 L629.1 703.4 L630.8 701.4 L632.4 699.3 L634.0 697.3 L635.7 695.4 L637.4 693.4 L639.2 691.5 L641.0 689.7 L642.8 687.8 L644.6 686.0 L646.4 684.2 L648.3 682.5 L650.2 680.8 L652.1 679.1 L654.1 677.5 L656.0 675.9 L658.0 674.3 L660.0 672.8 L662.0 671.3 L664.1 669.9 L666.1 668.5 L668.2 667.1 L670.3 665.7 L672.4 664.4 L674.5 663.2 L676.7 661.9 L678.8 660.8 L681.0 659.6 L683.2 658.5 L685.4 657.4 L687.6 656.4 L689.8 655.4 L692.0 654.4 L694.2 653.5 L696.5 652.6 L698.7 651.7 L700.9 650.9 L703.2 650.1 L705.4 649.3 L707.7 648.6 L709.9 647.9 L712.2 647.2 L714.4 646.5 L716.7 645.9 L718.9 645.3 L721.2 644.8 L723.4 644.3 L725.7 643.8 L727.9 643.3 L730.1 642.8 L732.4 642.4 L734.6 642.0 L736.8 641.6 L739.0 641.3 L741.2 640.9 L743.4 640.6 L745.7 640.3 L747.8 640.0 L750.0 639.8 L752.2 639.5 L754.4 639.3 L756.6 639.1 L758.8 638.9 L760.9 638.7 L763.1 638.5 L765.3 638.3 L767.4 638.2 L769.6 638.1 L771.7 637.9 L773.8 637.8 L776.0 637.7 L778.1 637.6 L780.3 637.5 L782.4 637.4 L784.5 637.3 L786.7 637.2 L788.8 637.2 L790.9 637.1 L793.1 637.0 L795.2 637.0 L797.3 636.9 L799.5 636.8 L801.6 636.8 L803.8 636.7 L805.9 636.7 L808.1 636.7 L810.3 636.7 L812.5 636.6 L814.6 636.6 L816.8 636.6 L819.0 636.7 L821.2 636.7 L823.4 636.7 L825.7 636.8 L827.9 636.9 L830.1 637.0 L832.4 637.1 L834.6 637.2 L836.9 637.4 L839.2 637.5 L841.5 637.7 L843.8 637.9 L846.1 638.2 L848.4 638.4 L850.7 638.7 L853.0 639.0 L855.3 639.4 L857.6 639.7 L860.0 640.1 L862.3 640.5 L864.7 641.0 L867.0 641.5 L869.4 642.0 L871.7 642.5 L874.1 643.1 L876.5 643.7 L878.8 644.3 L881.2 645.0 L883.5 645.7 L885.9 646.5 L888.3 647.3 L890.6 648.1 L893.0 648.9 L895.3 649.9 L897.7 650.8 L900.0 651.8 L902.3 652.8 L904.6 653.9 L906.9 655.0 L909.2 656.1 L911.5 657.3 L913.7 658.5 L916.0 659.8 L918.2 661.1 L920.4 662.4 L922.6 663.8 L924.8 665.3 L927.0 666.7 L929.1 668.3 L931.2 669.8 L933.3 671.4 L935.4 673.1 L937.4 674.7 L939.4 676.5 L941.4 678.2 L943.3 680.0 L945.3 681.9 L947.2 683.7 L949.0 685.7 L950.9 687.6 L952.6 689.6 L954.4 691.6 L956.1 693.7 L957.8 695.8 L959.5 697.9 L961.1 700.1 L962.7 702.3 L964.2 704.5 L965.7 706.8 L967.1 709.1 L968.5 711.4 L969.9 713.7 L971.2 716.1 L972.5 718.5 L973.7 721.0 L974.9 723.4 L976.0 725.9 L977.1 728.4 L978.1 731.0 L979.1 733.5 L980.0 736.1 L980.9 738.7 L981.7 741.3 L982.5 743.9 L983.2 746.6 L983.8 749.2 L984.4 751.9 L985.0 754.6 L985.5 757.3 L985.9 760.0 L986.3 762.7 L986.6 765.4 L986.9 768.1 L987.1 770.9 L987.2 773.6 L987.3 776.3 L987.3 779.1 L987.3 781.8" fill="none" stroke="#fffbe0" stroke-width="0.9"/>
<path d="M132 780.1 H462 M1134 780.1 H1478" stroke="#ffeedd" stroke-width="1.3" stroke-dasharray="3.9 2.7" fill="none"/>
</g>
<path d="M273.2 348.3 C277.6 343.7 282.0 339.1 286.4 334.6 C290.9 330.2 295.4 325.7 300.0 321.4 C304.6 317.0 309.1 313.4 314.0 308.5 C320.0 302.5 328.4 294.8 333.0 288.0 C336.6 282.6 340.1 276.8 340.5 272.0 C340.8 268.2 339.7 263.9 337.5 261.5 C335.3 259.1 330.7 257.9 327.0 257.7 C322.9 257.5 318.5 258.9 314.0 261.0 C308.2 263.8 301.6 269.9 296.0 274.4 C290.9 278.5 286.5 282.7 281.8 286.9 C277.1 291.1 272.5 295.4 267.9 299.8 C263.3 304.1 258.8 308.5 254.4 313.0 C249.9 317.4 245.6 322.0 241.2 326.5 C236.9 331.1 232.2 336.0 228.4 340.4 C225.2 344.2 223.0 347.2 219.9 351.2 C216.2 356.0 211.4 362.4 207.8 367.4 C204.8 371.5 202.4 375.1 199.6 378.9" fill="none" stroke="#231815" stroke-width="4" stroke-linecap="butt" stroke-linejoin="round"/>
<path d="M1.8 0 L-10.9 -7 L-7.3 0 L-10.9 7 Z" transform="translate(196.2 383.8) rotate(125.3)" fill="#231815"/>
<path d="M190.7 388.0 C187.7 392.4 184.6 396.8 181.6 401.3 C178.6 405.7 176.3 409.3 172.8 414.7 C167.6 423.0 157.9 437.8 153.8 446.0 C151.3 451.0 149.8 454.6 148.9 458.5 C148.2 461.7 147.8 464.9 148.3 467.6 C148.8 470.0 149.8 472.7 151.5 474.2 C153.2 475.7 156.0 476.5 158.4 476.6 C160.9 476.7 163.7 475.6 166.3 474.4 C169.3 473.1 172.5 471.0 175.4 468.7 C178.6 466.2 181.5 462.9 184.4 459.6 C187.5 456.1 190.3 452.3 193.5 448.3 C197.1 443.7 201.0 438.5 204.8 433.6 C208.6 428.7 212.4 423.6 216.2 418.8 C219.9 414.1 224.1 409.2 227.5 405.2 C230.2 402.0 231.9 400.0 234.8 396.4 C239.4 390.8 246.7 381.1 252.3 374.3 C257.4 368.3 262.0 363.1 266.9 357.4" fill="none" stroke="#231815" stroke-width="4" stroke-linecap="butt" stroke-linejoin="round"/>
<path d="M1.8 0 L-10.9 -7 L-7.3 0 L-10.9 7 Z" transform="translate(270.8 352.9) rotate(-49.3)" fill="#231815"/>
<path d="M58.2 661.9 C59.5 655.0 60.7 648.0 62.1 641.2 C63.4 634.5 64.5 628.0 66.4 621.3 C68.5 614.3 71.5 607.2 74.2 600.2 C76.8 593.2 79.6 586.2 82.4 579.3 C85.2 572.4 88.2 565.5 91.2 558.6 C94.2 551.8 97.3 544.9 100.5 538.2 C103.6 531.4 105.9 524.3 110.3 517.9 C115.1 510.9 122.8 501.9 128.8 498.1 C132.9 495.5 137.4 493.2 140.9 494.1 C144.6 495.1 148.8 500.0 150.5 504.5 C152.6 510.1 151.1 519.0 149.5 526.3 C147.8 534.2 143.3 543.2 140.2 550.1 C137.7 555.7 135.1 559.9 132.7 564.8 C130.2 569.8 127.6 575.3 125.5 579.7 C123.8 583.3 122.5 586.1 121.0 589.3" fill="none" stroke="#231815" stroke-width="4" stroke-linecap="butt" stroke-linejoin="round"/>
<path d="M1.8 0 L-10.9 -7 L-7.3 0 L-10.9 7 Z" transform="translate(118.5 594.8) rotate(114.8)" fill="#231815"/>
<path d="M114.7 602.9 C112.0 610.1 109.2 617.2 106.6 624.4 C104.0 631.6 101.4 638.8 99.0 646.0 C96.6 653.2 94.2 660.5 91.9 667.8 C89.7 675.1 87.5 682.4 85.3 689.8 C83.2 697.1 81.2 704.5 79.2 711.9 C77.3 719.3 76.1 727.0 73.6 734.1 C71.0 741.1 67.9 749.3 64.0 754.0 C61.1 757.5 57.2 760.9 54.0 761.3 C51.4 761.7 48.5 760.3 46.5 758.5 C44.1 756.3 42.6 752.0 41.6 748.0 C40.4 743.2 40.0 737.0 40.4 731.6 C40.8 726.1 42.7 720.7 43.9 715.3 C45.1 709.9 46.3 704.5 47.6 699.2 C48.9 693.8 50.5 687.7 51.6 683.1 C52.5 679.6 53.1 677.0 53.8 674.0" fill="none" stroke="#231815" stroke-width="4" stroke-linecap="butt" stroke-linejoin="round"/>
<path d="M1.8 0 L-10.9 -7 L-7.3 0 L-10.9 7 Z" transform="translate(55.2 668.2) rotate(-76.4)" fill="#231815"/>
<path d="M276.3 462.9 C292.5 440.7 308.9 416.4 325.0 396.3 C339.2 378.6 355.7 360.7 367.5 348.2 C375.4 339.8 380.7 332.4 388.0 327.8 C394.3 323.9 401.1 321.0 408.0 320.8 C415.1 320.6 422.0 323.4 430.0 327.0 C441.0 332.0 455.2 343.3 466.6 351.0 C476.7 357.8 487.3 364.0 495.0 370.8 C501.3 376.4 507.4 381.7 510.5 388.0 C513.3 393.6 514.4 400.5 514.0 406.0 C513.7 410.7 511.1 414.6 509.6 418.9" fill="none" stroke="#231815" stroke-width="4" stroke-linecap="butt" stroke-linejoin="round"/>
<path d="M1.8 0 L-10.9 -7 L-7.3 0 L-10.9 7 Z" transform="translate(507.7 424.6) rotate(108.7)" fill="#231815"/>
<path d="M494.4 438.2 C485.1 449.7 476.7 460.2 466.6 472.8 C454.5 488.0 438.5 509.0 427.0 523.0 C418.5 533.3 412.7 543.4 404.4 549.5 C397.4 554.6 389.4 557.8 381.7 559.0 C374.3 560.2 367.0 558.8 359.0 557.0 C349.5 554.9 339.3 550.6 328.9 545.8 C316.8 540.3 301.8 532.0 291.0 525.0 C282.3 519.4 273.3 514.2 268.4 508.0 C264.6 503.3 261.9 497.9 261.6 492.9 C261.3 488.3 264.5 483.8 265.9 479.2" fill="none" stroke="#231815" stroke-width="4" stroke-linecap="butt" stroke-linejoin="round"/>
<path d="M1.8 0 L-10.9 -7 L-7.3 0 L-10.9 7 Z" transform="translate(267.7 473.5) rotate(-72.5)" fill="#231815"/>
<path d="M157.4 726.6 C156.4 731.6 153.6 737.1 154.4 741.7 C155.2 746.2 158.1 750.8 161.8 754.0 C166.0 757.6 172.6 759.6 178.9 761.3 C186.2 763.2 195.2 763.3 203.3 764.2 C211.5 765.1 219.6 766.6 227.8 766.9 C235.9 767.2 244.1 766.5 252.2 766.2 C260.3 765.9 268.9 765.9 276.6 765.0 C283.5 764.2 290.3 763.5 296.2 761.3 C301.6 759.3 307.3 756.3 310.8 752.7 C313.9 749.6 315.2 746.2 317.0 741.7 C319.5 735.3 320.7 726.1 323.0 717.3 C325.8 706.8 329.2 694.4 332.8 683.1 C336.4 671.8 340.5 660.8 344.3 649.7" fill="none" stroke="#231815" stroke-width="4" stroke-linecap="butt" stroke-linejoin="round"/>
<path d="M1.8 0 L-10.9 -7 L-7.3 0 L-10.9 7 Z" transform="translate(346.3 644.0) rotate(-71.0)" fill="#231815"/>
<path d="M351.2 637.9 C353.3 631.9 356.4 625.4 357.5 620.0 C358.4 615.7 358.7 612.0 358.3 608.0 C357.9 604.0 356.6 599.6 355.0 596.0 C353.6 592.8 352.3 590.4 349.6 587.3 C345.2 582.2 337.2 575.7 328.9 570.3 C318.5 563.5 302.5 556.8 291.0 551.4 C281.6 547.0 272.7 542.3 265.0 540.0 C259.3 538.3 254.5 537.4 249.5 537.5 C244.8 537.6 239.9 538.5 236.0 540.0 C232.5 541.4 229.9 542.6 226.9 545.8 C221.8 551.1 216.1 563.1 211.8 572.2 C207.5 581.2 204.7 590.7 200.9 600.0 C197.1 609.6 193.3 617.8 189.0 628.9 C183.3 643.8 175.2 666.5 170.2 681.7 C166.5 693.0 164.1 701.6 161.1 711.6" fill="none" stroke="#231815" stroke-width="4" stroke-linecap="butt" stroke-linejoin="round"/>
<path d="M1.8 0 L-10.9 -7 L-7.3 0 L-10.9 7 Z" transform="translate(159.3 717.3) rotate(107.0)" fill="#231815"/>
<path d="M1136.0 267.2 C1127.2 281.3 1119.1 295.0 1109.5 309.5 C1099.0 325.4 1087.1 344.6 1075.5 358.6 C1065.7 370.4 1052.7 379.0 1045.3 388.9 C1039.6 396.5 1033.9 404.0 1033.0 411.3 C1032.2 417.7 1033.9 423.5 1037.8 430.0 C1044.2 440.6 1063.1 452.1 1075.5 464.2 C1088.3 476.7 1100.6 491.1 1113.3 503.9 C1125.7 516.3 1139.9 533.4 1151.0 539.8 C1157.9 543.8 1163.1 544.9 1170.0 545.4 C1178.0 546.0 1188.5 544.1 1196.4 541.6 C1203.4 539.4 1210.8 535.5 1215.3 532.2 C1218.3 530.0 1219.6 527.6 1221.8 525.3" fill="none" stroke="#231815" stroke-width="4" stroke-linecap="butt" stroke-linejoin="round"/>
<path d="M1.8 0 L-10.9 -7 L-7.3 0 L-10.9 7 Z" transform="translate(1225.9 520.9) rotate(-46.8)" fill="#231815"/>
<path d="M1238.7 503.9 C1253.6 490.7 1269.3 476.9 1283.3 464.2 C1295.9 452.7 1308.9 440.3 1319.0 431.0 C1326.4 424.1 1333.4 418.8 1338.3 413.2 C1341.9 409.0 1344.7 405.6 1346.6 401.1 C1348.6 396.3 1349.9 390.3 1349.6 385.0 C1349.3 379.6 1347.3 374.3 1344.6 368.9 C1341.3 362.3 1336.1 356.1 1330.2 348.7 C1322.2 338.7 1311.5 326.3 1300.0 315.0 C1286.8 302.1 1268.5 287.7 1255.0 276.0 C1244.0 266.5 1233.3 257.3 1225.0 250.0 C1219.1 244.8 1214.6 240.1 1210.0 236.5 C1206.4 233.7 1203.7 231.2 1200.0 229.6 C1196.3 228.0 1192.2 227.1 1188.0 227.0 C1183.4 226.9 1178.4 227.6 1173.7 229.7 C1168.0 232.2 1161.0 238.9 1156.7 242.5 C1153.8 244.9 1152.1 246.7 1149.8 248.8" fill="none" stroke="#231815" stroke-width="4" stroke-linecap="butt" stroke-linejoin="round"/>
<path d="M1.8 0 L-10.9 -7 L-7.3 0 L-10.9 7 Z" transform="translate(1145.4 252.9) rotate(137.4)" fill="#231815"/>
<path d="M1369.5 474.8 C1377.7 472.1 1386.4 468.5 1394.0 466.8 C1400.4 465.4 1406.0 463.8 1411.9 464.5 C1417.9 465.2 1424.6 467.4 1429.7 471.2 C1435.2 475.3 1438.4 480.9 1443.1 489.0 C1451.3 503.2 1461.3 532.0 1469.9 551.5 C1477.6 568.9 1485.2 585.0 1492.2 600.5 C1498.5 614.5 1506.3 629.1 1510.0 640.7 C1512.6 649.1 1515.0 656.1 1514.4 663.0 C1513.9 669.3 1511.8 675.8 1507.8 680.8 C1503.3 686.4 1495.8 690.0 1487.7 694.2 C1476.9 699.8 1461.3 704.4 1447.6 709.8 C1433.1 715.5 1416.8 722.2 1403.0 727.6 C1391.1 732.2 1380.9 736.0 1369.8 740.2" fill="none" stroke="#231815" stroke-width="4" stroke-linecap="butt" stroke-linejoin="round"/>
<path d="M1.8 0 L-10.9 -7 L-7.3 0 L-10.9 7 Z" transform="translate(1364.2 742.3) rotate(159.3)" fill="#231815"/>
<path d="M1345.9 753.0 C1338.2 756.0 1329.5 760.7 1322.7 762.0 C1317.7 762.9 1314.3 762.8 1309.3 762.0 C1302.7 760.9 1293.8 757.7 1287.0 754.4 C1280.5 751.3 1273.8 747.7 1269.2 743.2 C1265.2 739.3 1263.6 736.0 1260.3 729.9 C1254.0 718.2 1245.6 693.7 1238.0 676.3 C1230.7 659.5 1222.1 641.8 1215.7 627.3 C1210.6 615.8 1203.0 605.2 1202.3 596.1 C1201.8 589.4 1203.5 583.5 1206.8 578.2 C1210.5 572.2 1216.9 567.8 1224.6 562.6 C1235.8 555.1 1254.6 548.7 1269.2 540.3 C1284.3 531.6 1299.5 520.5 1313.8 511.3 C1327.0 502.8 1339.2 495.1 1351.9 486.9" fill="none" stroke="#231815" stroke-width="4" stroke-linecap="butt" stroke-linejoin="round"/>
<path d="M1.8 0 L-10.9 -7 L-7.3 0 L-10.9 7 Z" transform="translate(1357.0 483.7) rotate(-32.6)" fill="#231815"/>
<rect x="790.5" y="97.5" width="4.4" height="656.5" fill="#3a170c"/>
<rect x="786.5" y="101.7" width="12.2" height="3.2" fill="#3a170c"/>
<rect x="786.5" y="147.8" width="12.2" height="3.2" fill="#3a170c"/>
<rect x="786.5" y="181.6" width="12.2" height="3.2" fill="#3a170c"/>
<rect x="786.5" y="444.4" width="12.2" height="3.2" fill="#3a170c"/>
<rect x="786.5" y="469.7" width="12.2" height="3.2" fill="#3a170c"/>
<rect x="786.5" y="632.8" width="12.2" height="3.2" fill="#3a170c"/>
<rect x="786.5" y="752.2" width="12.2" height="3.2" fill="#3a170c"/>
<text x="115.8" y="36.5" font-size="27.30" fill="#231f20" text-anchor="start" textLength="322.9" lengthAdjust="spacingAndGlyphs" >Layered mantle hypothesis</text>
<text x="115.8" y="70.2" font-size="20.30" fill="#231f20" text-anchor="start" textLength="270.4" lengthAdjust="spacingAndGlyphs" >convection cells are separated</text>
<text x="115.8" y="92.0" font-size="20.30" fill="#231f20" text-anchor="start" textLength="236.7" lengthAdjust="spacingAndGlyphs" >by the transition zone into</text>
<text x="115.8" y="113.0" font-size="20.30" fill="#231f20" text-anchor="start" textLength="216.4" lengthAdjust="spacingAndGlyphs" >upper and lower mantle</text>
<text x="116.9" y="162.5" font-size="20.30" fill="#231f20" text-anchor="start" textLength="242.3" lengthAdjust="spacingAndGlyphs" >subducted slabs don’t pass</text>
<text x="116.9" y="183.9" font-size="20.30" fill="#231f20" text-anchor="start" textLength="205.4" lengthAdjust="spacingAndGlyphs" >through the 660 phase</text>
<text x="116.9" y="210.5" font-size="20.30" fill="#231f20" text-anchor="start" textLength="85.5" lengthAdjust="spacingAndGlyphs" >transition</text>
<text x="1212.5" y="36.5" font-size="27.30" fill="#231f20" text-anchor="start" textLength="306.0" lengthAdjust="spacingAndGlyphs" >Whole mantle hypothesis</text>
<text x="1212.5" y="81.5" font-size="20.30" fill="#231f20" text-anchor="start" textLength="304.2" lengthAdjust="spacingAndGlyphs" >convection cells circulate through</text>
<text x="1212.5" y="102.2" font-size="20.30" fill="#231f20" text-anchor="start" textLength="217.1" lengthAdjust="spacingAndGlyphs" >upper and lower mantle</text>
<text x="1212.5" y="144.3" font-size="20.30" fill="#231f20" text-anchor="start" textLength="315.5" lengthAdjust="spacingAndGlyphs" >subducted slabs may plunge down</text>
<text x="1212.5" y="166.2" font-size="20.30" fill="#231f20" text-anchor="start" textLength="225.0" lengthAdjust="spacingAndGlyphs" >to the D”-layer above the</text>
<text x="1212.5" y="188.0" font-size="20.30" fill="#231f20" text-anchor="start" textLength="203.0" lengthAdjust="spacingAndGlyphs" >core-mantle boundary</text>
<text x="837.8" y="35.6" font-size="28.50" fill="#231f20" text-anchor="start" textLength="65.6" lengthAdjust="spacingAndGlyphs" >crust</text>
<text x="837.8" y="54.4" font-size="16.30" fill="#231f20" text-anchor="start" textLength="196.9" lengthAdjust="spacingAndGlyphs" >continental (~40 km thick)</text>
<text x="837.8" y="75.9" font-size="16.30" fill="#231f20" text-anchor="start" textLength="160.0" lengthAdjust="spacingAndGlyphs" >oceanic (~6 km thick)</text>
<text x="770.3" y="67.5" font-size="15.50" fill="#231f20" text-anchor="start" textLength="44.1" lengthAdjust="spacingAndGlyphs" >depth</text>
<text x="772.2" y="88.5" font-size="15.50" fill="#231f20" text-anchor="start" textLength="40.3" lengthAdjust="spacingAndGlyphs" >in km</text>
<text x="781.6" y="153.0" font-size="13.60" fill="#3a1a10" text-anchor="end" textLength="193.9" lengthAdjust="spacingAndGlyphs" >olivine to spinel phase transition</text>
<text x="781.6" y="187.8" font-size="13.60" fill="#3a1a10" text-anchor="end" textLength="261.2" lengthAdjust="spacingAndGlyphs" >garnet/spinel to perovskite phase transition</text>
<text x="780.4" y="450.4" font-size="13.60" fill="#3a1a10" text-anchor="end" textLength="275.9" lengthAdjust="spacingAndGlyphs" >perovskite to post-perovskite phase transition</text>
<text x="779.1" y="475.0" font-size="13.60" fill="#3a1a10" text-anchor="end" textLength="135.3" lengthAdjust="spacingAndGlyphs" >core-mantle boundary</text>
<text x="781.6" y="638.0" font-size="13.60" fill="#3a1a10" text-anchor="end" textLength="59.7" lengthAdjust="spacingAndGlyphs" >inner core</text>
<text x="803.0" y="111.0" font-size="13.60" fill="#3a1a10" text-anchor="start" textLength="13.0" lengthAdjust="spacingAndGlyphs" >35</text>
<text x="838.0" y="111.0" font-size="13.60" fill="#3a1a10" text-anchor="start" textLength="33.6" lengthAdjust="spacingAndGlyphs" >Moho</text>
<text x="803.0" y="153.2" font-size="13.60" fill="#3a1a10" text-anchor="start" textLength="20.8" lengthAdjust="spacingAndGlyphs" >410</text>
<text x="803.0" y="187.4" font-size="13.60" fill="#3a1a10" text-anchor="start" textLength="20.8" lengthAdjust="spacingAndGlyphs" >660</text>
<text x="802.5" y="450.4" font-size="13.60" fill="#3a1a10" text-anchor="start" textLength="28.7" lengthAdjust="spacingAndGlyphs" >2685</text>
<text x="837.8" y="450.4" font-size="13.60" fill="#3a1a10" text-anchor="start" textLength="45.3" lengthAdjust="spacingAndGlyphs" >D” layer</text>
<text x="802.5" y="474.6" font-size="13.60" fill="#3a1a10" text-anchor="start" textLength="28.7" lengthAdjust="spacingAndGlyphs" >2885</text>
<text x="837.8" y="474.6" font-size="13.60" fill="#3a1a10" text-anchor="start" textLength="147.6" lengthAdjust="spacingAndGlyphs" >Gutenberg discontinuity</text>
<text x="802.5" y="638.0" font-size="13.60" fill="#3a1a10" text-anchor="start" textLength="28.7" lengthAdjust="spacingAndGlyphs" >5155</text>
<text x="837.8" y="638.0" font-size="13.60" fill="#3a1a10" text-anchor="start" textLength="138.5" lengthAdjust="spacingAndGlyphs" >Lehmann discontinuity</text>
<text x="802.5" y="757.7" font-size="13.60" fill="#3a1a10" text-anchor="start" textLength="28.7" lengthAdjust="spacingAndGlyphs" >6371</text>
<text x="837.8" y="757.7" font-size="13.60" fill="#3a1a10" text-anchor="start" textLength="112.6" lengthAdjust="spacingAndGlyphs" >Center of the earth</text>
<text x="821.7" y="705.5" font-size="25.50" fill="#fdf8c8" text-anchor="start" textLength="120.9" lengthAdjust="spacingAndGlyphs" >inner core</text>
<defs><path id="pUM" d="M859.7 140.8 L864.4 141.2 L869.1 141.6 L873.8 142.0 L878.5 142.5 L883.2 143.0 L887.8 143.5 L892.5 144.0 L897.2 144.5 L901.9 145.1 L906.6 145.7 L911.2 146.4 L915.9 147.1 L920.6 147.7 L925.2 148.5 L929.9 149.2 L934.5 150.0 L939.2 150.8 L943.8 151.6 L948.5 152.5 L953.1 153.4 L957.7 154.3 L962.4 155.2 L967.0 156.2 L971.6 157.2 L976.2 158.2 L980.8 159.3 L985.4 160.4 L990.0 161.5 L994.6 162.7 L999.2 163.8 L1003.7 165.0 L1008.3 166.3 L1012.8 167.6 L1017.4 168.8 L1021.9 170.2 L1026.5 171.5 L1031.0 172.9 L1035.5 174.3 L1040.0 175.8" fill="none"/><path id="pTZ" d="M857.4 172.7 L862.5 173.1 L867.5 173.6 L872.5 174.0 L877.6 174.6 L882.6 175.1 L887.7 175.7 L892.7 176.3 L897.7 177.0 L902.8 177.7 L907.8 178.4 L912.8 179.1 L917.8 179.9 L922.8 180.8 L927.8 181.6 L932.8 182.5 L937.8 183.5 L942.8 184.4 L947.7 185.4 L952.7 186.5 L957.7 187.6 L962.6 188.7 L967.6 189.8 L972.5 191.0 L977.4 192.2 L982.3 193.5 L987.3 194.8 L992.1 196.2 L997.0 197.5 L1001.9 199.0 L1006.8 200.4 L1011.6 201.9 L1016.5 203.4 L1021.3 205.0 L1026.1 206.6 L1030.9 208.3 L1035.7 210.0 L1040.5 211.7 L1045.3 213.4 L1050.0 215.3" fill="none"/><path id="pLM" d="M856.2 215.7 L861.0 216.1 L865.9 216.6 L870.7 217.1 L875.5 217.6 L880.3 218.1 L885.1 218.7 L889.9 219.3 L894.7 219.9 L899.5 220.6 L904.3 221.3 L909.1 222.1 L913.9 222.9 L918.7 223.7 L923.5 224.5 L928.2 225.4 L933.0 226.3 L937.7 227.3 L942.5 228.3 L947.2 229.3 L952.0 230.3 L956.7 231.4 L961.4 232.6 L966.1 233.7 L970.8 234.9 L975.5 236.2 L980.2 237.5 L984.9 238.8 L989.5 240.1 L994.2 241.5 L998.8 243.0 L1003.4 244.4 L1008.1 245.9 L1012.7 247.5 L1017.3 249.0 L1021.8 250.7 L1026.4 252.3 L1030.9 254.0 L1035.5 255.7 L1040.0 257.5" fill="none"/><path id="pOC" d="M867.0 508.3 L871.3 509.0 L875.6 509.7 L879.9 510.5 L884.2 511.4 L888.4 512.3 L892.7 513.3 L897.0 514.3 L901.2 515.4 L905.5 516.6 L909.7 517.8 L913.9 519.1 L918.1 520.4 L922.3 521.8 L926.5 523.3 L930.6 524.8 L934.8 526.5 L938.9 528.2 L943.0 529.9 L947.0 531.8 L951.0 533.7 L955.0 535.7 L959.0 537.7 L962.9 539.8 L966.8 542.0 L970.7 544.3 L974.5 546.6 L978.3 549.0 L982.0 551.5 L985.7 554.0 L989.3 556.6 L992.9 559.3 L996.5 562.0 L1000.0 564.8 L1003.5 567.7 L1006.9 570.6 L1010.2 573.6 L1013.5 576.6 L1016.8 579.7 L1020.0 582.9" fill="none"/></defs>
<text font-size="24.5" fill="#f8a48c"><textPath href="#pUM" textLength="140.5" lengthAdjust="spacingAndGlyphs">upper mantle</textPath></text>
<text font-size="24.5" fill="#f9b09a"><textPath href="#pTZ" textLength="157.5" lengthAdjust="spacingAndGlyphs">transition zone</textPath></text>
<text font-size="24.5" fill="#f8a07a"><textPath href="#pLM" textLength="138" lengthAdjust="spacingAndGlyphs">lower mantle</textPath></text>
<text font-size="26" fill="#fcd998"><textPath href="#pOC" textLength="121" lengthAdjust="spacingAndGlyphs">outer core</textPath></text>
</svg>
</body></html>
